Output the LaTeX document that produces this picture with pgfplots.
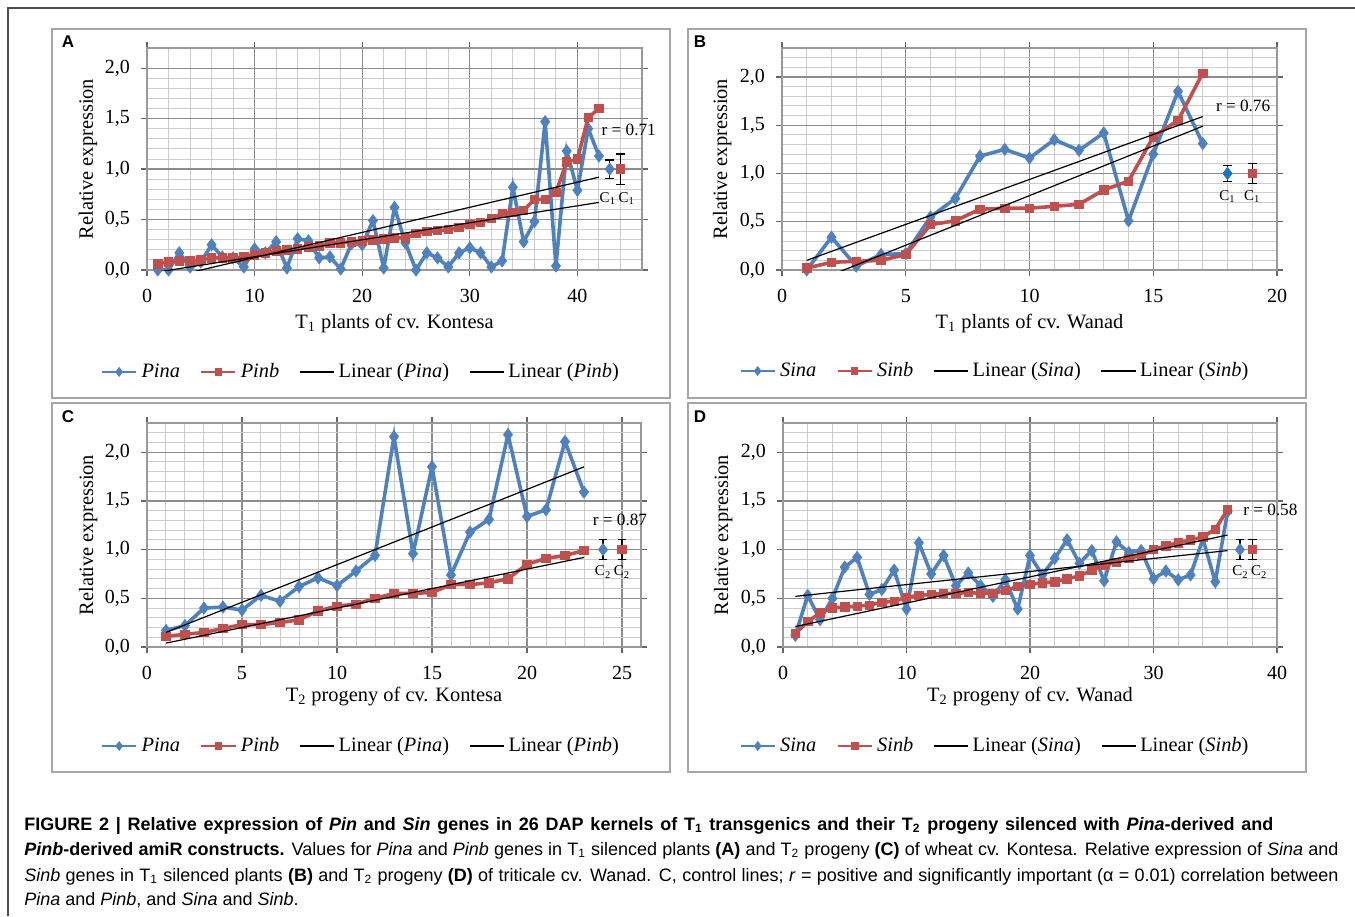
\documentclass[border=0pt]{standalone}
\usepackage{fontspec}
\setmainfont{Liberation Serif}
\setsansfont{Liberation Sans}
\newfontfamily\capfont{Liberation Sans}
\usepackage{pgfplots}
\pgfplotsset{compat=1.18}
\definecolor{xblue}{HTML}{4F81BD}
\definecolor{xred}{HTML}{C0504D}
\definecolor{cblue}{HTML}{1C75C4}

\pgfplotsset{
  panel/.style={
    scale only axis, anchor=south west, clip mode=individual,
    axis line style={draw=black!40, line width=0.6pt},
    grid=both,
    major grid style={draw=black!45, line width=0.6pt},
    minor grid style={draw=black!20, line width=0.5pt},
    minor x tick num=4, minor y tick num=4,
    ymin=0, ytick distance=0.5,
    tick align=outside, major tick length=3pt, minor tick length=0pt,
    tick style={black!60, line width=0.6pt},
    /pgf/number format/assume math mode=true,
    tick label style={font=\fontsize{10}{12}\selectfont},
    yticklabel style={xshift=-2pt, /pgf/number format/.cd, fixed, fixed zerofill, precision=1, use comma},
    xticklabel style={yshift=-3pt},
    label style={font=\fontsize{10.2}{12}\selectfont},
    ylabel={Relative expression},
    legend style={draw=none, fill=none, font=\fontsize{10.2}{12}\selectfont,
      legend columns=4, anchor=center,
      /tikz/every even column/.append style={column sep=8pt}},
    legend cell align=left,
  },
  pa/.style={xblue, line width=1.8pt, mark=diamond*, mark size=3pt,
    mark options={solid, line width=0.4pt},
    legend image post style={line width=1.3pt, mark size=2.2pt}},
  pb/.style={xred, line width=1.8pt, mark=square*, mark size=2.1pt,
    mark options={solid, line width=0.4pt},
    legend image post style={line width=1.3pt, mark size=1.6pt}},
  trend/.style={black, line width=0.6pt, no marks},
  ctrl/.style={only marks, forget plot, mark options={solid, line width=0.4pt},
    error bars/y dir=both, error bars/y explicit,
    error bars/error bar style={black, line width=0.6pt},
    error bars/error mark options={rotate=90, mark size=2.2pt, black, line width=0.6pt}},
}

\begin{document}
\begin{tikzpicture}
\begin{scope}[x=0.5pt,y=-0.5pt]
\useasboundingbox (0,0) rectangle (1355,916);
\draw[black!70, line width=0.7pt] (8,916) -- (8,8) -- (1355,8);
\draw[black!35, line width=0.8pt] (52,29) rectangle (670,398);
\draw[black!35, line width=0.8pt] (688,29) rectangle (1306,398);
\draw[black!35, line width=0.8pt] (52,403) rectangle (670,772);
\draw[black!35, line width=0.8pt] (688,403) rectangle (1306,772);
\node[font=\sffamily\bfseries\fontsize{8.5}{10}\selectfont] at (68,42) {A};
\node[font=\sffamily\bfseries\fontsize{8.5}{10}\selectfont] at (700,42) {B};
\node[font=\sffamily\bfseries\fontsize{8.5}{10}\selectfont] at (68,417) {C};
\node[font=\sffamily\bfseries\fontsize{8.5}{10}\selectfont] at (700,417) {D};
\end{scope}

% ---- A ----
\begin{axis}[panel, at={(73.5pt,-135pt)}, width=247.5pt, height=111pt,
  xmin=0, xmax=46, ymax=2.2, xtick distance=10,
  xlabel={T\textsubscript{1} plants of cv. Kontesa},
  xlabel style={at={(axis description cs:0.5,-0.239)}, anchor=center},
  ylabel style={at={(axis description cs:-0.119,0.5)}, anchor=center},
  legend style={at={(0.434,-0.459)}}]
\addplot[pa] coordinates {(1,0.00)(2,0.00)(3,0.17)(4,0.03)(5,0.08)(6,0.25)(7,0.13)(8,0.12)(9,0.03)(10,0.21)(11,0.17)(12,0.28)(13,0.02)(14,0.31)(15,0.29)(16,0.12)(17,0.13)(18,0.01)(19,0.26)(20,0.25)(21,0.49)(22,0.02)(23,0.62)(24,0.27)(25,0.00)(26,0.17)(27,0.12)(28,0.03)(29,0.17)(30,0.22)(31,0.17)(32,0.03)(33,0.09)(34,0.82)(35,0.28)(36,0.48)(37,1.47)(38,0.04)(39,1.18)(40,0.79)(41,1.40)(42,1.13)};
\addplot[pb] coordinates {(1,0.06)(2,0.08)(3,0.09)(4,0.09)(5,0.10)(6,0.12)(7,0.12)(8,0.12)(9,0.13)(10,0.15)(11,0.17)(12,0.19)(13,0.20)(14,0.21)(15,0.23)(16,0.24)(17,0.27)(18,0.27)(19,0.28)(20,0.29)(21,0.30)(22,0.31)(23,0.32)(24,0.32)(25,0.36)(26,0.38)(27,0.39)(28,0.40)(29,0.42)(30,0.45)(31,0.47)(32,0.51)(33,0.56)(34,0.57)(35,0.59)(36,0.70)(37,0.70)(38,0.77)(39,1.07)(40,1.10)(41,1.51)(42,1.60)};
\addplot[trend] coordinates {(1,-0.10)(42,0.92)};
\addplot[trend] coordinates {(1,-0.02)(42,0.67)};
\addplot[ctrl, xblue, mark=diamond*, mark size=3pt] coordinates {(43,1.0) +- (0,0.09)};
\addplot[ctrl, xred, mark=square*, mark size=2.1pt] coordinates {(44,1.0) +- (0,0.15)};
\node[anchor=west, font=\fontsize{8.6}{10}\selectfont] at (axis cs:41.6,1.39) {r = 0.71};
\node[font=\fontsize{7.5}{9}\selectfont] at (axis cs:43.7,0.71) {C\textsubscript{1}\,C\textsubscript{1}};
\legend{\textit{Pina}, \textit{Pinb}, Linear (\textit{Pina}), Linear (\textit{Pinb})}
\end{axis}

% ---- B ----
\begin{axis}[panel, at={(391pt,-135pt)}, width=247.5pt, height=111pt,
  xmin=0, xmax=20, ymax=2.3, xtick distance=5,
  xlabel={T\textsubscript{1} plants of cv. Wanad},
  xlabel style={at={(axis description cs:0.5,-0.239)}, anchor=center},
  ylabel style={at={(axis description cs:-0.121,0.5)}, anchor=center},
  legend style={at={(0.432,-0.455)}}]
\addplot[pa] coordinates {(1,0.00)(2,0.34)(3,0.04)(4,0.16)(5,0.17)(6,0.55)(7,0.74)(8,1.18)(9,1.25)(10,1.16)(11,1.35)(12,1.24)(13,1.42)(14,0.51)(15,1.20)(16,1.85)(17,1.31)};
\addplot[pb] coordinates {(1,0.02)(2,0.08)(3,0.09)(4,0.10)(5,0.16)(6,0.47)(7,0.51)(8,0.63)(9,0.64)(10,0.64)(11,0.66)(12,0.68)(13,0.83)(14,0.92)(15,1.38)(16,1.55)(17,2.04)};
\addplot[trend] coordinates {(1,0.10)(17,1.59)};
\addplot[trend] coordinates {(1,-0.154)(17,1.49)};
\addplot[ctrl, cblue, mark=diamond*, mark size=3pt] coordinates {(18,1.0) +- (0,0.08)};
\addplot[ctrl, xred, mark=square*, mark size=2.1pt] coordinates {(19,1.0) +- (0,0.1)};
\node[anchor=west, font=\fontsize{8.6}{10}\selectfont] at (axis cs:17.25,1.70) {r = 0.76};
\node[font=\fontsize{7.5}{9}\selectfont] at (axis cs:18,0.76) {C\textsubscript{1}};
\node[font=\fontsize{7.5}{9}\selectfont] at (axis cs:19,0.76) {C\textsubscript{1}};
\legend{\textit{Sina}, \textit{Sinb}, Linear (\textit{Sina}), Linear (\textit{Sinb})}
\end{axis}

% ---- C ----
\begin{axis}[panel, at={(73.5pt,-323.5pt)}, width=247pt, height=112pt,
  xmin=0, xmax=26, ymax=2.3, xtick distance=5,
  xlabel={T\textsubscript{2} progeny of cv. Kontesa},
  xlabel style={at={(axis description cs:0.5,-0.223)}, anchor=center},
  ylabel style={at={(axis description cs:-0.119,0.5)}, anchor=center},
  legend style={at={(0.435,-0.442)}}]
\addplot[pa] coordinates {(1,0.17)(2,0.22)(3,0.40)(4,0.41)(5,0.38)(6,0.53)(7,0.47)(8,0.62)(9,0.71)(10,0.63)(11,0.78)(12,0.94)(13,2.16)(14,0.96)(15,1.85)(16,0.74)(17,1.18)(18,1.31)(19,2.18)(20,1.34)(21,1.41)(22,2.11)(23,1.59)};
\addplot[pb] coordinates {(1,0.11)(2,0.13)(3,0.15)(4,0.19)(5,0.23)(6,0.23)(7,0.25)(8,0.28)(9,0.37)(10,0.42)(11,0.44)(12,0.50)(13,0.55)(14,0.55)(15,0.56)(16,0.64)(17,0.64)(18,0.66)(19,0.70)(20,0.85)(21,0.91)(22,0.94)(23,0.99)};
\addplot[trend] coordinates {(1,0.15)(23,1.85)};
\addplot[trend] coordinates {(1,0.04)(23,0.92)};
\addplot[ctrl, xblue, mark=diamond*, mark size=3pt] coordinates {(24,1.0) +- (0,0.1)};
\addplot[ctrl, xred, mark=square*, mark size=2.1pt] coordinates {(25,1.0) +- (0,0.1)};
\node[anchor=west, font=\fontsize{8.6}{10}\selectfont] at (axis cs:23.1,1.31) {r = 0.87};
\node[font=\fontsize{7.5}{9}\selectfont] at (axis cs:24.5,0.77) {C\textsubscript{2}\,C\textsubscript{2}};
\legend{\textit{Pina}, \textit{Pinb}, Linear (\textit{Pina}), Linear (\textit{Pinb})}
\end{axis}

% ---- D ----
\begin{axis}[panel, at={(391.5pt,-323.5pt)}, width=247pt, height=112pt,
  xmin=0, xmax=40, ymax=2.3, xtick distance=10,
  xlabel={T\textsubscript{2} progeny of cv. Wanad},
  xlabel style={at={(axis description cs:0.5,-0.223)}, anchor=center},
  ylabel style={at={(axis description cs:-0.121,0.5)}, anchor=center},
  legend style={at={(0.431,-0.442)}}]
\addplot[pa] coordinates {(1,0.12)(2,0.53)(3,0.28)(4,0.50)(5,0.82)(6,0.92)(7,0.54)(8,0.59)(9,0.79)(10,0.39)(11,1.07)(12,0.75)(13,0.94)(14,0.63)(15,0.76)(16,0.63)(17,0.52)(18,0.69)(19,0.39)(20,0.94)(21,0.74)(22,0.91)(23,1.10)(24,0.86)(25,0.99)(26,0.68)(27,1.08)(28,0.97)(29,0.99)(30,0.70)(31,0.78)(32,0.69)(33,0.74)(34,1.11)(35,0.67)(36,1.39)};
\addplot[pb] coordinates {(1,0.14)(2,0.26)(3,0.35)(4,0.40)(5,0.41)(6,0.42)(7,0.43)(8,0.46)(9,0.47)(10,0.51)(11,0.53)(12,0.54)(13,0.55)(14,0.55)(15,0.56)(16,0.55)(17,0.55)(18,0.58)(19,0.62)(20,0.64)(21,0.66)(22,0.67)(23,0.70)(24,0.73)(25,0.79)(26,0.84)(27,0.87)(28,0.91)(29,0.94)(30,1.00)(31,1.04)(32,1.07)(33,1.10)(34,1.13)(35,1.21)(36,1.41)};
\addplot[trend] coordinates {(1,0.52)(36,0.99)};
\addplot[trend] coordinates {(1,0.21)(36,1.15)};
\addplot[ctrl, xblue, mark=diamond*, mark size=3pt] coordinates {(37,1.0) +- (0,0.1)};
\addplot[ctrl, xred, mark=square*, mark size=2.1pt] coordinates {(38,1.0) +- (0,0.1)};
\node[anchor=west, font=\fontsize{8.6}{10}\selectfont] at (axis cs:36.7,1.41) {r = 0.58};
\node[font=\fontsize{7.5}{9}\selectfont] at (axis cs:37.8,0.77) {C\textsubscript{2}\,C\textsubscript{2}};
\legend{\textit{Sina}, \textit{Sinb}, Linear (\textit{Sina}), Linear (\textit{Sinb})}
\end{axis}

% ---- caption ----
\begin{scope}[x=0.5pt,y=-0.5pt]
\node[anchor=base west, inner sep=0pt] at (24,830) {\capfont\fontsize{9}{11}\selectfont\bfseries\makebox[624.5pt][s]{FIGURE 2 | Relative expression of \textit{Pin} and \textit{Sin} genes in 26 DAP kernels of T\textsubscript{1} transgenics and their T\textsubscript{2} progeny silenced with \textit{Pina}-derived and}};
\node[anchor=base west, inner sep=0pt] at (24,855) {\capfont\fontsize{9}{11}\selectfont\makebox[657pt][s]{\textbf{\textit{Pinb}-derived amiR constructs.} Values for \textit{Pina} and \textit{Pinb} genes in T\textsubscript{1} silenced plants \textbf{(A)} and T\textsubscript{2} progeny \textbf{(C)} of wheat cv. Kontesa. Relative expression of \textit{Sina} and}};
\node[anchor=base west, inner sep=0pt] at (24,881) {\capfont\fontsize{9}{11}\selectfont\makebox[657pt][s]{\textit{Sinb} genes in T\textsubscript{1} silenced plants \textbf{(B)} and T\textsubscript{2} progeny \textbf{(D)} of triticale cv. Wanad. C, control lines; \textit{r} = positive and significantly important (α = 0.01) correlation between}};
\node[anchor=base west, inner sep=0pt] at (24,905) {\capfont\fontsize{9}{11}\selectfont \textit{Pina} and \textit{Pinb}, and \textit{Sina} and \textit{Sinb}.};
\end{scope}
\end{tikzpicture}
\end{document}
